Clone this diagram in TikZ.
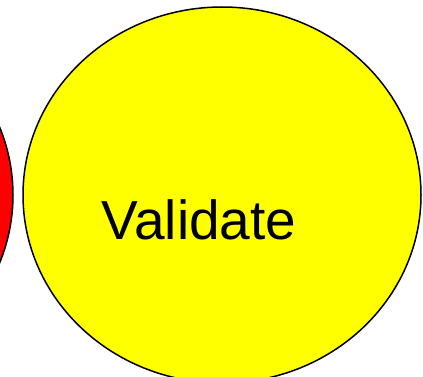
\documentclass[tikz,border=0pt]{standalone}
\usepackage{fontspec}
\setmainfont{Liberation Sans}
\usepackage{xcolor}
\usetikzlibrary{positioning,shapes.geometric}
\definecolor{cStep}{HTML}{FFFF00}
\definecolor{cPrev}{HTML}{FF0000}
\tikzset{
  stepblob/.style={ellipse, draw=black, line width=1.5pt, inner sep=0pt,
                   minimum width=398pt, minimum height=376pt},
  validblob/.style={stepblob, fill=cStep},
  prevblob/.style={stepblob, fill=cPrev},
  steplbl/.style={font=\fontsize{55}{62}\selectfont, text=black, inner sep=0pt}
}
\begin{document}
\begin{tikzpicture}[x=1pt, y=-1pt]
\useasboundingbox (0,0) rectangle (423,377);
\clip (0,0) rectangle (423,377);
% previous step, mostly off the left edge
\node[prevblob] (prev) at (-186,195) {};
% current step
\node[validblob] (validate) at (222,195) {};
\node[steplbl, anchor=base] (validatetxt) at (199,239) {Validate};
\end{tikzpicture}
\end{document}
